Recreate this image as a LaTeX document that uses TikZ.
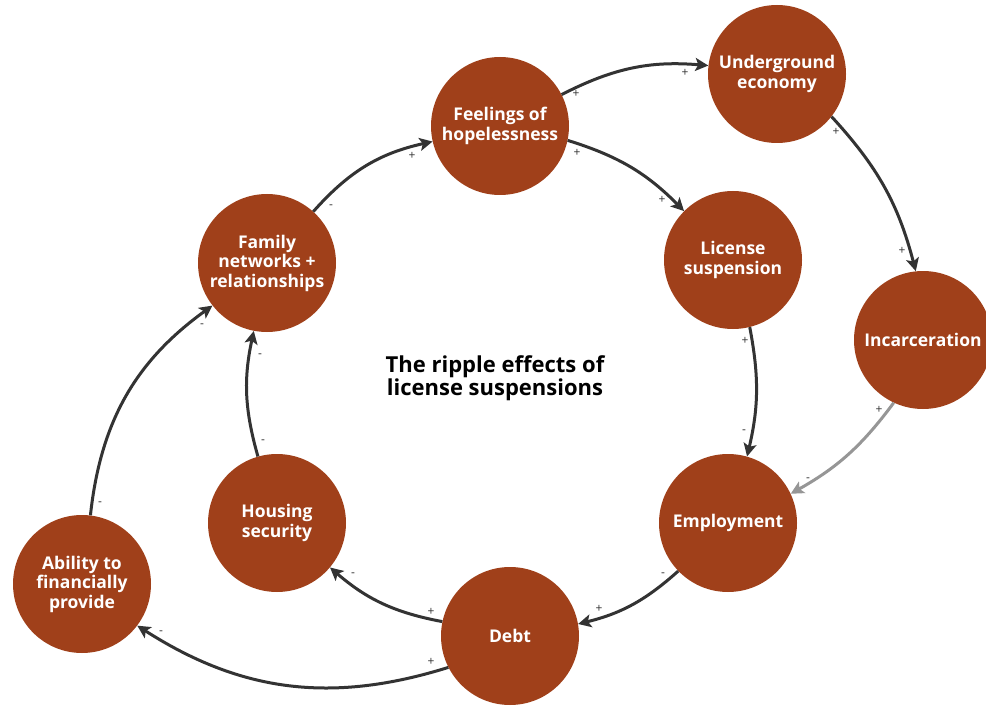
\documentclass[tikz,border=0pt]{standalone}
\usepackage{fontspec}
\setmainfont{Open Sans}
\usetikzlibrary{arrows.meta}
\definecolor{rust}{RGB}{160,64,26}
\definecolor{arrowdark}{RGB}{51,51,51}
\definecolor{arrowgray}{RGB}{150,150,150}
\tikzset{
  bubble/.style={circle, fill=rust, minimum size=138pt, inner sep=0pt, text=white,
    font=\bfseries\fontsize{17.5}{19.5}\selectfont, align=center},
  link/.style={draw=arrowdark, line width=3pt, -{Stealth[length=13pt,width=13pt,inset=3pt]}},
  linkgray/.style={link, draw=arrowgray},
  sign/.style={font=\fontsize{12}{12}\selectfont, text=arrowdark, inner sep=0pt},
  title/.style={font=\bfseries\fontsize{22}{23.5}\selectfont, align=center, text=black}
}
\begin{document}
\begin{tikzpicture}[x=1pt,y=1pt]
\useasboundingbox (0,0) rectangle (986,-706);
\node[bubble] (feel) at (500,-126) {Feelings of\\hopelessness};
\node[bubble] (under) at (777,-74) {Underground\\economy};
\node[bubble] (lic) at (733,-260) {License\\suspension};
\node[bubble] (inc) at (923,-340) {Incarceration};
\node[bubble] (emp) at (728,-523) {Employment};
\node[bubble] (debt) at (510,-636) {Debt};
\node[bubble] (house) at (277,-523) {Housing\\security};
\node[bubble] (abil) at (82,-584) {Ability to\\financially\\provide};
\node[bubble] (fam) at (267,-263) {Family\\networks +\\relationships};
\node[title] (ttl) at (495,-378) {The ripple effects of\\license suspensions};

\draw[link] (fam.48) to[bend left=18] (feel.193);
\draw[link] (feel.27) to[bend left=16] (under.173);
\draw[link] (feel.-12) to[bend left=14] (lic.135);
\draw[link] (under.-38) to[bend left=14] (inc.96);
\draw[link] (lic.-76) to[bend left=12] (emp.74);
\draw[linkgray] (inc.-115) to[bend left=12] (emp.25);
\draw[link] (emp.-136) to[bend left=14] (debt.10);
\draw[link] (debt.168) to[bend left=15] (house.-40);
\draw[link] (debt.-153) to[bend left=25] (abil.-37);
\draw[link] (house.106) to[bend left=14] (fam.-101);
\draw[link] (abil.83) to[bend left=24] (fam.-142);

\node[sign] (s1a) at (331,-207) {-};
\node[sign] (s1b) at (412,-156) {+};
\node[sign] (s2a) at (576,-94) {+};
\node[sign] (s2b) at (685,-73) {+};
\node[sign] (s3a) at (577,-153) {+};
\node[sign] (s3b) at (662,-200) {+};
\node[sign] (s4a) at (836,-132) {+};
\node[sign] (s4b) at (902,-251) {+};
\node[sign] (s5a) at (745,-341) {+};
\node[sign] (s5b) at (744,-432) {-};
\node[sign] (s6a) at (879,-410) {+};
\node[sign] (s6b) at (808,-480) {-};
\node[sign] (s7a) at (663,-575) {-};
\node[sign] (s7b) at (599,-609) {+};
\node[sign] (s8a) at (431,-612) {+};
\node[sign] (s8b) at (353,-575) {-};
\node[sign] (s9a) at (431,-662) {+};
\node[sign] (s9b) at (161,-633) {-};
\node[sign] (s10a) at (263,-442) {-};
\node[sign] (s10b) at (260,-356) {-};
\node[sign] (s11a) at (100,-504) {-};
\node[sign] (s11b) at (202,-326) {-};
\end{tikzpicture}
\end{document}
